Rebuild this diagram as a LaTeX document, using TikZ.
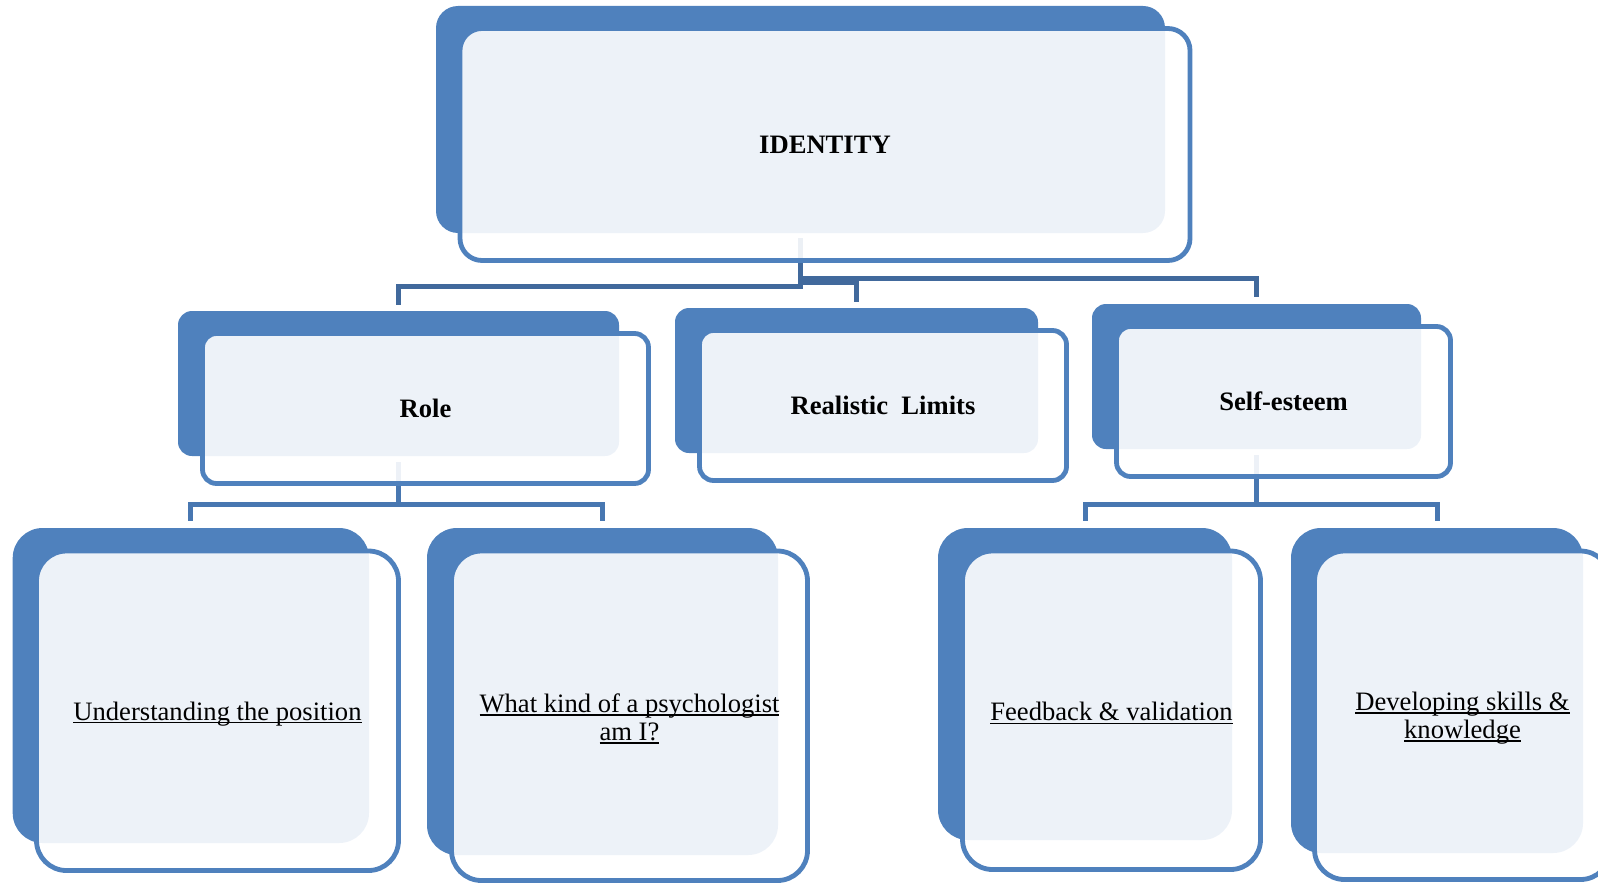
\documentclass[tikz,border=0pt]{standalone}
\usepackage{fontspec}
\setmainfont{Liberation Serif}
\definecolor{boxblue}{HTML}{4F81BD}
\definecolor{linkdark}{HTML}{41699C}
\definecolor{linkmid}{HTML}{4877B1}
% underline sitting just below the baseline, crossing descenders
\newsavebox{\ulinebox}
\newcommand{\ulline}[1]{\leavevmode\sbox{\ulinebox}{#1}\rlap{\rule[-1.5pt]{\wd\ulinebox}{0.7pt}}\usebox{\ulinebox}}
\tikzset{
  backbox/.style={rectangle, fill=boxblue, draw=none, inner sep=0pt},
  frontbox/.style={rectangle, draw=boxblue, line width=2.4pt, fill=white,
    fill opacity=0.9, draw opacity=1, text opacity=1, inner sep=0pt,
    align=center, text=black, font=\fontsize{13.3pt}{14pt}\selectfont},
  headbox/.style={frontbox, font=\fontsize{13.3pt}{14pt}\selectfont\bfseries},
  itemtext/.style={inner sep=0pt, align=center, text=black, yshift=-1.5pt,
    font=\fontsize{13.3pt}{14pt}\selectfont},
  toplink/.style={draw=linkdark, line width=2.7pt},
  sublink/.style={draw=linkmid, line width=2.5pt},
}
\begin{document}
\begin{tikzpicture}[x=0.5pt, y=-0.5pt]
\useasboundingbox (0,0) rectangle (1598,883);
\clip (0,0) rectangle (1598,883);

% solid back plates (coordinates of their centres)
\path
  node[backbox, minimum width=364.5pt, minimum height=113.5pt, rounded corners=11pt] (idb) at (800.5,119.5) {}
  node[backbox, minimum width=220.5pt, minimum height=72.5pt, rounded corners=7pt] (roleb) at (398.5,383.5) {}
  node[backbox, minimum width=181.5pt, minimum height=72.5pt, rounded corners=7pt] (limb) at (856.5,380.5) {}
  node[backbox, minimum width=164.5pt, minimum height=72.5pt, rounded corners=7pt] (selfb) at (1256.5,376.5) {}
  node[backbox, minimum width=178.15pt, minimum height=157.5pt, rounded corners=15pt] (posb) at (190.85,685.5) {}
  node[backbox, minimum width=175.5pt, minimum height=163.5pt, rounded corners=15pt] (kindb) at (602.5,691.5) {}
  node[backbox, minimum width=147pt, minimum height=156pt, rounded corners=15pt] (feedb) at (1085,684) {}
  node[backbox, minimum width=146pt, minimum height=162.5pt, rounded corners=15pt] (skillb) at (1437,690.5) {};

% elbow connectors, drawn beneath the translucent front panels
\draw[toplink] ([yshift=-2.5pt]idb.south) -- ++(0,48) -| ([yshift=3pt]roleb.north);
\draw[toplink] ([yshift=-2.5pt]idb.south) -- ++(0,44) -| ([yshift=3pt]limb.north);
\draw[toplink] ([yshift=-2.5pt]idb.south) -- ++(0,40) -| ([yshift=3.5pt]selfb.north);
\draw[sublink] ([yshift=-3pt]roleb.south) -- ++(0,42) -| ([yshift=3.5pt]posb.north);
\draw[sublink] ([yshift=-3pt]roleb.south) -- ++(0,42) -| ([yshift=3.5pt]kindb.north);
\draw[sublink] ([yshift=-3pt]selfb.south) -- ++(0,49) -| ([yshift=3.5pt]feedb.north);
\draw[sublink] ([yshift=-3pt]selfb.south) -- ++(0,49) -| ([yshift=3.5pt]skillb.north);

% translucent outlined front panels
\node[headbox, minimum width=365pt, minimum height=116pt, rounded corners=11pt] (idf) at (825,144.5) {IDENTITY};
\node[headbox, minimum width=223pt, minimum height=75pt, rounded corners=7pt] (rolef) at (425.5,408.5) {Role};
\node[headbox, minimum width=183.5pt, minimum height=75pt, rounded corners=7pt] (limf) at (883,405.5) {Realistic\ \ Limits};
\node[headbox, minimum width=167pt, minimum height=75pt, rounded corners=7pt] (selff) at (1283.5,401.5) {Self-esteem};
\node[frontbox, minimum width=181pt, minimum height=159.75pt, rounded corners=15pt] (posf) at (217.5,710.75) {};
\node[frontbox, minimum width=178pt, minimum height=164.75pt, rounded corners=15pt] (kindf) at (629.5,715.75) {};
\node[frontbox, minimum width=149pt, minimum height=159.25pt, rounded corners=15pt] (feedf) at (1111.5,710.25) {};
\node[frontbox, minimum width=148pt, minimum height=164.25pt, rounded corners=15pt] (skillf) at (1462.5,715.25) {};

% underlined labels of the lowest level
\node[itemtext] (post) at (posf.center) {\ulline{Understanding the position}};
\node[itemtext] (kindt) at (kindf.center) {\ulline{What kind of a psychologist}\\\ulline{am I?}};
\node[itemtext] (feedt) at (feedf.center) {\ulline{Feedback \& validation}};
\node[itemtext] (skillt) at (skillf.center) {\ulline{Developing skills \&}\\\ulline{knowledge}};
\end{tikzpicture}
\end{document}
